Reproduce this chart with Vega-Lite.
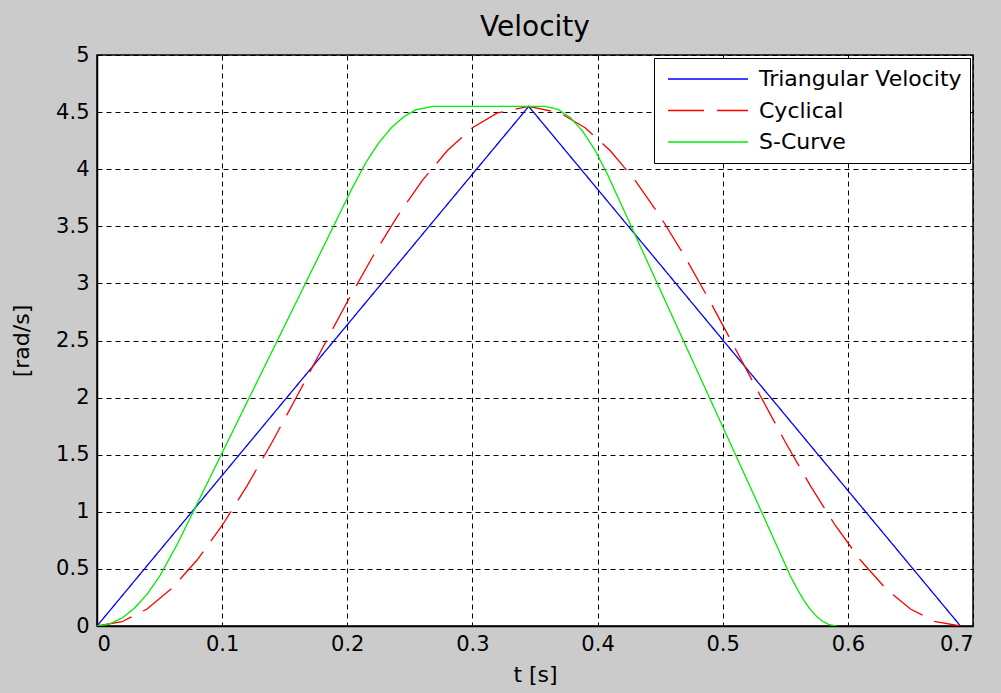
{
  "$schema": "https://vega.github.io/schema/vega-lite/v6.json",
  "width": 876,
  "height": 571,
  "autosize": {"type": "none"},
  "padding": {"left": 97, "top": 55, "right": 28, "bottom": 67},
  "background": "#cbcbcb",
  "title": {
    "text": "Velocity",
    "font": "DejaVu Sans",
    "fontSize": 28,
    "fontWeight": "normal",
    "color": "#000000",
    "anchor": "middle",
    "frame": "group",
    "baseline": "alphabetic",
    "offset": -20
  },
  "config": {
    "view": {"fill": "#ffffff", "stroke": "#000000", "strokeWidth": 1.5},
    "axis": {
      "labelFont": "DejaVu Sans",
      "labelFontSize": 21,
      "labelColor": "#000000",
      "titleFont": "DejaVu Sans",
      "titleFontSize": 22,
      "titleFontWeight": "normal",
      "titleColor": "#000000",
      "grid": true,
      "gridColor": "#000000",
      "gridDash": [5, 4],
      "gridWidth": 1,
      "gridOpacity": 1,
      "domainColor": "#000000",
      "domainWidth": 1.5,
      "ticks": false
    },
    "legend": {
      "orient": "top-right",
      "offset": 3,
      "fillColor": "#ffffff",
      "strokeColor": "#000000",
      "padding": 8,
      "labelFont": "DejaVu Sans",
      "labelFontSize": 22,
      "labelColor": "#000000",
      "labelLimit": 400,
      "labelOffset": 10,
      "symbolType": "stroke",
      "symbolSize": 6400,
      "symbolStrokeWidth": 1.4,
      "symbolOffset": 5,
      "clipHeight": 26,
      "rowPadding": 5.5
    }
  },
  "data": {
    "values": [
      {"t": 0, "v": 0, "s": "Triangular Velocity"},
      {"t": 0.345, "v": 4.55, "s": "Triangular Velocity"},
      {"t": 0.69, "v": 0, "s": "Triangular Velocity"},

      {"t": 0, "v": 0, "s": "Cyclical"},
      {"t": 0.02, "v": 0.0376, "s": "Cyclical"},
      {"t": 0.04, "v": 0.1492, "s": "Cyclical"},
      {"t": 0.06, "v": 0.3312, "s": "Cyclical"},
      {"t": 0.08, "v": 0.5775, "s": "Cyclical"},
      {"t": 0.10, "v": 0.8802, "s": "Cyclical"},
      {"t": 0.12, "v": 1.2292, "s": "Cyclical"},
      {"t": 0.14, "v": 1.6113, "s": "Cyclical"},
      {"t": 0.16, "v": 2.0167, "s": "Cyclical"},
      {"t": 0.18, "v": 2.4302, "s": "Cyclical"},
      {"t": 0.20, "v": 2.8392, "s": "Cyclical"},
      {"t": 0.22, "v": 3.2293, "s": "Cyclical"},
      {"t": 0.24, "v": 3.5876, "s": "Cyclical"},
      {"t": 0.26, "v": 3.9018, "s": "Cyclical"},
      {"t": 0.28, "v": 4.1636, "s": "Cyclical"},
      {"t": 0.30, "v": 4.3625, "s": "Cyclical"},
      {"t": 0.32, "v": 4.4929, "s": "Cyclical"},
      {"t": 0.345, "v": 4.55, "s": "Cyclical"},
      {"t": 0.37, "v": 4.4929, "s": "Cyclical"},
      {"t": 0.39, "v": 4.3625, "s": "Cyclical"},
      {"t": 0.41, "v": 4.1636, "s": "Cyclical"},
      {"t": 0.43, "v": 3.9018, "s": "Cyclical"},
      {"t": 0.45, "v": 3.5876, "s": "Cyclical"},
      {"t": 0.47, "v": 3.2293, "s": "Cyclical"},
      {"t": 0.49, "v": 2.8392, "s": "Cyclical"},
      {"t": 0.51, "v": 2.4302, "s": "Cyclical"},
      {"t": 0.53, "v": 2.0167, "s": "Cyclical"},
      {"t": 0.55, "v": 1.6113, "s": "Cyclical"},
      {"t": 0.57, "v": 1.2292, "s": "Cyclical"},
      {"t": 0.59, "v": 0.8802, "s": "Cyclical"},
      {"t": 0.61, "v": 0.5775, "s": "Cyclical"},
      {"t": 0.63, "v": 0.3312, "s": "Cyclical"},
      {"t": 0.65, "v": 0.1492, "s": "Cyclical"},
      {"t": 0.67, "v": 0.0376, "s": "Cyclical"},
      {"t": 0.69, "v": 0, "s": "Cyclical"},

      {"t": 0, "v": 0, "s": "S-Curve"},
      {"t": 0.01, "v": 0.0174, "s": "S-Curve"},
      {"t": 0.02, "v": 0.0696, "s": "S-Curve"},
      {"t": 0.03, "v": 0.1566, "s": "S-Curve"},
      {"t": 0.04, "v": 0.278, "s": "S-Curve"},
      {"t": 0.05, "v": 0.435, "s": "S-Curve"},
      {"t": 0.064, "v": 0.713, "s": "S-Curve"},
      {"t": 0.08, "v": 1.07, "s": "S-Curve"},
      {"t": 0.10, "v": 1.516, "s": "S-Curve"},
      {"t": 0.12, "v": 1.962, "s": "S-Curve"},
      {"t": 0.14, "v": 2.408, "s": "S-Curve"},
      {"t": 0.16, "v": 2.854, "s": "S-Curve"},
      {"t": 0.18, "v": 3.3, "s": "S-Curve"},
      {"t": 0.204, "v": 3.836, "s": "S-Curve"},
      {"t": 0.215, "v": 4.061, "s": "S-Curve"},
      {"t": 0.225, "v": 4.228, "s": "S-Curve"},
      {"t": 0.235, "v": 4.361, "s": "S-Curve"},
      {"t": 0.245, "v": 4.458, "s": "S-Curve"},
      {"t": 0.255, "v": 4.521, "s": "S-Curve"},
      {"t": 0.268, "v": 4.55, "s": "S-Curve"},
      {"t": 0.358, "v": 4.55, "s": "S-Curve"},
      {"t": 0.368, "v": 4.526, "s": "S-Curve"},
      {"t": 0.378, "v": 4.454, "s": "S-Curve"},
      {"t": 0.388, "v": 4.334, "s": "S-Curve"},
      {"t": 0.398, "v": 4.166, "s": "S-Curve"},
      {"t": 0.408, "v": 3.953, "s": "S-Curve"},
      {"t": 0.43, "v": 3.425, "s": "S-Curve"},
      {"t": 0.45, "v": 2.945, "s": "S-Curve"},
      {"t": 0.47, "v": 2.465, "s": "S-Curve"},
      {"t": 0.49, "v": 1.985, "s": "S-Curve"},
      {"t": 0.51, "v": 1.505, "s": "S-Curve"},
      {"t": 0.53, "v": 1.025, "s": "S-Curve"},
      {"t": 0.554, "v": 0.439, "s": "S-Curve"},
      {"t": 0.56, "v": 0.315, "s": "S-Curve"},
      {"t": 0.565, "v": 0.222, "s": "S-Curve"},
      {"t": 0.57, "v": 0.145, "s": "S-Curve"},
      {"t": 0.575, "v": 0.084, "s": "S-Curve"},
      {"t": 0.58, "v": 0.04, "s": "S-Curve"},
      {"t": 0.585, "v": 0.012, "s": "S-Curve"},
      {"t": 0.591, "v": 0, "s": "S-Curve"}
    ]
  },
  "mark": {"type": "line", "strokeWidth": 1.3, "clip": true},
  "encoding": {
    "x": {
      "field": "t",
      "type": "quantitative",
      "scale": {"domain": [0, 0.7], "nice": false, "zero": false},
      "axis": {
        "values": [0, 0.1, 0.2, 0.3, 0.4, 0.5, 0.6, 0.7],
        "format": "~g",
        "title": "t [s]",
        "labelPadding": 7,
        "titlePadding": 10
      }
    },
    "y": {
      "field": "v",
      "type": "quantitative",
      "scale": {"domain": [0, 5], "nice": false},
      "axis": {
        "values": [0, 0.5, 1, 1.5, 2, 2.5, 3, 3.5, 4, 4.5, 5],
        "format": "~g",
        "title": "[rad/s]",
        "labelPadding": 8,
        "titlePadding": 22
      }
    },
    "color": {
      "field": "s",
      "type": "nominal",
      "scale": {
        "domain": ["Triangular Velocity", "Cyclical", "S-Curve"],
        "range": ["#0000ff", "#ff0000", "#00ee00"]
      },
      "legend": {"title": null}
    },
    "strokeDash": {
      "field": "s",
      "type": "nominal",
      "scale": {
        "domain": ["Triangular Velocity", "Cyclical", "S-Curve"],
        "range": [[1, 0], [36, 13], [1, 0]]
      },
      "legend": {"title": null}
    }
  }
}
